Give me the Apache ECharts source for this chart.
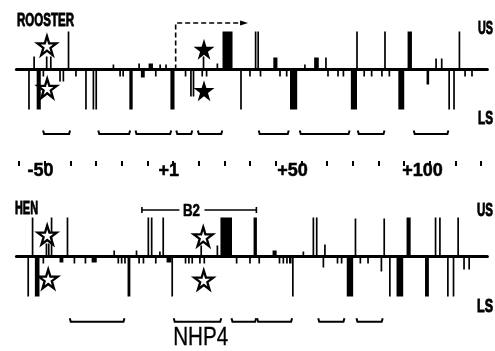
<!DOCTYPE html>
<html><head><meta charset="utf-8">
<script src="https://cdn.jsdelivr.net/npm/echarts@6/dist/echarts.min.js"></script>
<style>html,body{margin:0;padding:0;background:#fff}#c{width:495px;height:351px}</style>
</head><body><div id="c"></div>
<script>
// ================= DATA =================
// positions: nucleotide coordinate (0 = +1); heights: relative cleavage intensity (+ = upper strand, - = lower strand)
// single-nucleotide lines [position, intensity]
const roosterLines = [
  [-54.1,13],[-49.2,13],[-47.6,13],[-40.7,38],[-23.2,5],[-13.2,6],[-5,5],[-2.7,5],[11.9,13],[17.3,6],
  [32.2,38],[33.2,38],[51.4,5],[59.6,12],[71.7,38],[82.6,38],[102.5,11],[104.7,11],[111.6,38],
  [-56.1,-40],[-50.5,-7],[-44,-12],[-42.7,-12],[-37.8,-7],[-33.9,-40],[-31,-40],[-29.9,-40],[-20.6,-7],[-19.4,-7],
  [-6.7,-7],[4.9,-7],[7,-27],[8,-27],[11.4,-7],[13.1,-7],[26.5,-40],[30,-7],[34.1,-7],[41.7,-7],[44.3,-7],
  [60.4,-7],[64.3,-7],[66.4,-7],[74.5,-7],[77.4,-7],[81.4,-7],[84.3,-7],[107.6,-40],[109.5,-40],[113.8,-7],[116.5,-7]
];
// multi-nucleotide blocks [from, to, intensity]
const roosterBlocks = [
  [-9.5,-7.8,6],[19.3,23.2,38],[39.1,40.7,12],[55.0,56.8,12],[91.4,93.1,38],
  [-53.1,-51.5,-40],[-17,-15.7,-40],[-12.5,-11,-8],[-1,0.6,-40],[45.6,48.4,-40],[69.3,71.7,-40],[87.8,90.1,-40],[98.8,99.8,-15]
];
const henLines = [
  [-54.7,39],[-49.3,13],[-48.4,13],[-47.3,39],[-41.1,39],[-22.9,6],[-14.2,6],[-9.6,39],[-8.3,39],[-5.1,5],[-3.8,39],
  [11,11],[17.3,11],[50.8,5],[54.7,39],[56,39],[59.2,12],[71.1,38],[82.3,38],[102.3,39],[104,39],[111.1,39],
  [-56.4,-40],[-50.5,-7],[-38.4,-7],[-34.1,-7],[-21.3,-7],[-20,-7],[-18.7,-7],[-13.2,-7],[-11.5,-7],[-6.7,-7],
  [-0.3,-40],[4.9,-7],[6.2,-7],[7.5,-7],[10.5,-7],[12.2,-7],[24.8,-7],[30,-7],[33.6,-7],[41.5,-7],[43,-7],[44.4,-7],
  [46.7,-40],[58.6,-11],[64.1,-7],[65.7,-7],[73,-7],[76,-7],[81.2,-15],[84.5,-40],[107.1,-40],[109.3,-40],[113.4,-13],[115.4,-13]
];
const henBlocks = [
  [18.5,23,39],[31.4,32.7,39],[38.8,40.4,6],[91,92.6,39],
  [-53.8,-52,-40],[-44.2,-42.7,-6],[-31.7,-29.7,-6],[-17.7,-16.6,-40],[-2.5,-0.6,-6],[45.2,46.2,-7],
  [67.7,70.2,-40],[87.1,89.7,-40],[98.2,99.7,-40]
];
// stars [position, intensity]
const roosterOpenStars = [[-49.1,23.8],[-49,-18.8]];
const roosterFilledStars = [[12.1,20.2],[12.1,-21.2]];
const henOpenStars = [[-49,21.5],[-48.6,-22.5],[11.8,19.8],[12,-23.5]];
// footprints [from, to]
const roosterFootprints = [[-50.8,-39.9],[-29.3,-16.5],[-14.8,-0.5],[1.1,7.7],[9.5,19.4],[33.2,45.3],[49.2,69],[71.8,82.6],[93.6,107.5]];
const henFootprints = [[-40.4,-18.7],[0.1,19],[22.6,32.6],[32.6,46.6],[56.4,67],[71.3,81.9]];
const henFootprintNames = ['', 'NHP4', '', '', '', ''];
// B2 region [from, to, level, labelAt]
const b2Region = [[-12.1, 32.5, 46.5, 7.2]];
const b2Name = 'B2';
// transcription start arrow path
const transcriptArrow = [[1.05,0],[1.05,46.5],[27.7,46.5]];
// position axis
const tickValues = [-60,-50,-40,-30,-20,-10,0,10,20,30,40,50,60,70,80,90,100,110,120];
const tickLabelValues = [-50, 0, 50, 100];
const tickLabels = ['-50', '+1', '+50', '+100'];

// ================= STYLE =================
const labelNudge = [-1.6, -1.6, -3.4, -2.8];
const SANS = '"Liberation Sans",Arial,sans-serif';
const LINE_W = 1.7;
const X_MIN = -61, X_MAX = 122.5;
const STAR = 'path://M50,2 L61,37 L98,37 L68,59 L79,95 L50,73 L21,95 L32,59 L2,37 L39,37 Z';

const mctx = document.createElement('canvas').getContext('2d');
function fit(text, font, w) { mctx.font = font; return w / mctx.measureText(text).width; }

const labelCustom = tickLabelValues.map((v, i) => v + labelNudge[i]);

function renderBar(params, api) {
  const a = api.coord([api.value(0), 0]);
  const b = api.coord([api.value(1), api.value(2)]);
  let x0 = Math.min(a[0], b[0]), w = Math.abs(b[0] - a[0]);
  if (w < LINE_W) { x0 = (a[0] + b[0]) / 2 - LINE_W / 2; w = LINE_W; }
  return { type: 'rect', shape: { x: x0, y: Math.min(a[1], b[1]), width: w, height: Math.abs(b[1] - a[1]) }, style: { fill: '#000' } };
}
function bracketRenderer(level, names) {
  const font = '25px ' + SANS;
  return function (params, api) {
    const a = api.coord([api.value(0), level]), b = api.coord([api.value(1), level]);
    const children = [{ type: 'polyline', shape: { points: [[a[0] + 0.5, a[1] - 3.5], [a[0] + 1.5, a[1]], [b[0] - 1.5, b[1]], [b[0] - 0.5, b[1] - 3.5]] },
      style: { stroke: '#000', lineWidth: 2, fill: null } }];
    const n = names && names[params.dataIndex];
    if (n) children.push({ type: 'text', x: a[0], y: a[1] + 16, scaleX: fit(n, font, 55),
      style: { text: n, font: font, fill: '#000', stroke: '#000', lineWidth: 0.3, align: 'left', verticalAlign: 'middle' } });
    return { type: 'group', children };
  };
}
function regionRenderer(params, api) {
  const lv = api.value(2);
  const a = api.coord([api.value(0), lv]), b = api.coord([api.value(1), lv]), c = api.coord([api.value(3), lv]);
  const font = 'bold 17px ' + SANS;
  const st = { stroke: '#000', lineWidth: 1.6 };
  return { type: 'group', children: [
    { type: 'line', shape: { x1: a[0], y1: a[1], x2: c[0] - 12, y2: a[1] }, style: st },
    { type: 'line', shape: { x1: c[0] + 13, y1: a[1], x2: b[0], y2: a[1] }, style: st },
    { type: 'line', shape: { x1: a[0], y1: a[1] - 3, x2: a[0], y2: a[1] + 3 }, style: st },
    { type: 'line', shape: { x1: b[0], y1: a[1] - 3, x2: b[0], y2: a[1] + 3 }, style: st },
    { type: 'text', x: c[0] - 8.5, y: a[1] + 1, scaleX: fit(b2Name, font, 17),
      style: { text: b2Name, font: font, fill: '#000', stroke: '#000', lineWidth: 0.6, align: 'left', verticalAlign: 'middle' } }
  ] };
}
const toRows = (lines, blocks) => lines.map(d => [d[0], d[0], d[1]]).concat(blocks);

const baseX = (grid) => ({
  type: 'value', gridIndex: grid, min: X_MIN, max: X_MAX,
  axisLine: { show: true, onZero: true, lineStyle: { color: '#000', width: 3 } },
  axisTick: { show: false }, axisLabel: { show: false }, splitLine: { show: false }
});

const chart = echarts.init(document.getElementById('c'), null, { renderer: 'canvas' });
const hdrFont = 'bold 19px ' + SANS;
function hdr(text, x, y, w) {
  return { type: 'text', x: x, y: y, scaleX: fit(text, hdrFont, w),
    style: { text: text, font: hdrFont, fill: '#000', stroke: '#000', lineWidth: 0.9, align: 'left', verticalAlign: 'middle' } };
}
chart.setOption({
  animation: false,
  backgroundColor: '#fff',
  grid: [
    { left: 16.4, right: 7.6, top: 21.5, height: 114 },
    { left: 16.4, right: 7.6, top: 204.5, height: 120 }
  ],
  xAxis: [
    baseX(0),
    baseX(1),
    { type: 'value', gridIndex: 0, position: 'bottom', offset: 25.5, min: X_MIN, max: X_MAX,
      axisLine: { show: false, onZero: false },
      axisTick: { show: true, customValues: tickValues, length: 5, lineStyle: { color: '#000', width: 2 } },
      axisLabel: { show: true, customValues: labelCustom, margin: 1.5, color: '#000', fontFamily: SANS, fontWeight: 'bold', fontSize: 18,
        textBorderColor: '#000', textBorderWidth: 0.5,
        formatter: (v) => { const i = labelCustom.findIndex(c => Math.abs(c - v) < 1e-6); return i >= 0 ? tickLabels[i] : ''; } },
      splitLine: { show: false } }
  ],
  yAxis: [
    { type: 'value', gridIndex: 0, min: -66, max: 48, show: false },
    { type: 'value', gridIndex: 1, min: -68, max: 52, show: false }
  ],
  graphic: [
    hdr('ROOSTER', 17, 20.5, 57),
    hdr('US', 478, 28.5, 15),
    hdr('LS', 478, 119, 15),
    hdr('HEN', 15, 209, 23),
    hdr('US', 477, 211, 16),
    hdr('LS', 477, 306.5, 16)
  ],
  series: [
    { type: 'custom', xAxisIndex: 0, yAxisIndex: 0, data: toRows(roosterLines, roosterBlocks), encode: { x: [0, 1], y: 2 }, renderItem: renderBar, z: 2 },
    { type: 'custom', xAxisIndex: 1, yAxisIndex: 1, data: toRows(henLines, henBlocks), encode: { x: [0, 1], y: 2 }, renderItem: renderBar, z: 2 },
    { type: 'custom', xAxisIndex: 0, yAxisIndex: 0, data: roosterFootprints, encode: { x: [0, 1] }, renderItem: bracketRenderer(-64.5, null), z: 2 },
    { type: 'custom', xAxisIndex: 1, yAxisIndex: 1, data: henFootprints, encode: { x: [0, 1] }, renderItem: bracketRenderer(-65.2, henFootprintNames), z: 2 },
    { type: 'custom', xAxisIndex: 1, yAxisIndex: 1, data: b2Region, encode: { x: [0, 1], y: 2 }, renderItem: regionRenderer, z: 2 },
    { type: 'line', xAxisIndex: 0, yAxisIndex: 0, z: 3,
      data: transcriptArrow.map((p, i) => i === transcriptArrow.length - 1
        ? { value: p, symbol: 'triangle', symbolSize: [5, 8], symbolRotate: -90, itemStyle: { color: '#000' } }
        : { value: p, symbol: 'none' }),
      showSymbol: true, lineStyle: { color: '#000', width: 1.6, type: [5, 3] }, itemStyle: { color: '#000' } },
    { type: 'scatter', xAxisIndex: 0, yAxisIndex: 0, data: roosterOpenStars, symbol: STAR, symbolSize: 19, z: 5,
      itemStyle: { color: '#fff', borderColor: '#000', borderWidth: 2.3, opacity: 1 } },
    { type: 'scatter', xAxisIndex: 0, yAxisIndex: 0, data: roosterFilledStars, symbol: STAR, symbolSize: 21, z: 5,
      itemStyle: { color: '#000', opacity: 1 } },
    { type: 'scatter', xAxisIndex: 1, yAxisIndex: 1, data: henOpenStars, symbol: STAR, symbolSize: 19, z: 5,
      itemStyle: { color: '#fff', borderColor: '#000', borderWidth: 2.3, opacity: 1 } }
  ]
});
</script></body></html>
